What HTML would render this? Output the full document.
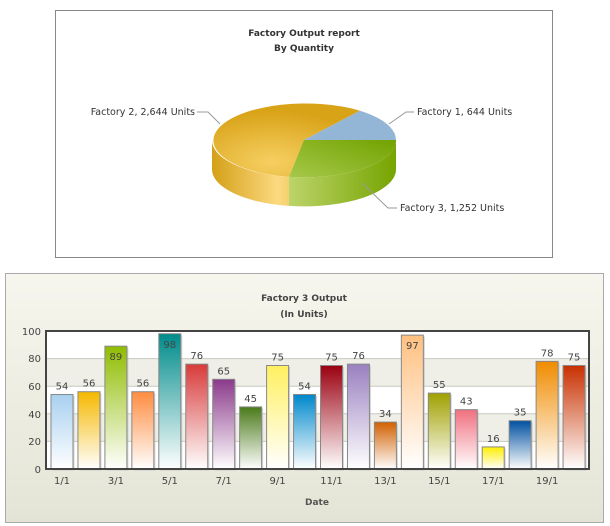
<!DOCTYPE html>
<html><head><meta charset="utf-8"><style>
body{margin:0;background:#fff;}
svg{display:block;font-family:"DejaVu Sans","Liberation Sans",sans-serif;}
</style></head><body>
<svg id="s" width="610" height="526" viewBox="0 0 610 526" xmlns="http://www.w3.org/2000/svg">
<defs>
<linearGradient id="pg" x1="0" y1="0" x2="0" y2="1"><stop offset="0" stop-color="#f6f6ee"/><stop offset="1" stop-color="#e4e4d6"/></linearGradient>
<linearGradient id="gold" x1="0" y1="0" x2="1" y2="0"><stop offset="0" stop-color="#d4a017"/><stop offset="0.85" stop-color="#fcd980"/><stop offset="1" stop-color="#f5d070"/></linearGradient>
<linearGradient id="grn" x1="0" y1="0" x2="1" y2="0"><stop offset="0" stop-color="#bcd46a"/><stop offset="1" stop-color="#76a400"/></linearGradient>
<radialGradient id="goldt" cx="0.4" cy="0.8" r="0.7"><stop offset="0" stop-color="#f6cf62"/><stop offset="1" stop-color="#d9a318"/></radialGradient>
<linearGradient id="grnt" x1="0" y1="1" x2="1" y2="0"><stop offset="0" stop-color="#a6c84a"/><stop offset="1" stop-color="#72a200"/></linearGradient>
</defs>
<rect x="55.5" y="10.5" width="497" height="247" fill="#fff" stroke="#888"/>
<text x="304" y="36" font-size="9" font-weight="bold" text-anchor="middle" fill="#333">Factory Output report</text>
<text x="304" y="51" font-size="9" font-weight="bold" text-anchor="middle" fill="#333">By Quantity</text>
<path d="M212 140 L212 169 A92 37 0 0 0 289 205.9 L289 176.9 A92 37 0 0 1 212 140 Z" fill="url(#gold)"/>
<path d="M289 176.9 L289 205.9 A92 37 0 0 0 396 169 L396 140 A92 37 0 0 1 289 176.9 Z" fill="url(#grn)"/>
<path d="M304 140 L289 176.9 A92 37 0 1 1 360 110.7 Z" fill="url(#goldt)"/>
<path d="M304 140 L360 110.7 A92 37 0 0 1 396 140 Z" fill="#93b5d6"/>
<path d="M304 140 L396 140 A92 37 0 0 1 289 176.9 Z" fill="url(#grnt)"/>
<polyline points="197,112 208,112 220,124" fill="none" stroke="#999"/>
<text x="195" y="115" font-size="9.5" text-anchor="end" fill="#333">Factory 2, 2,644 Units</text>
<polyline points="389,124 406,112 414,112" fill="none" stroke="#999"/>
<text x="417" y="115" font-size="9.5" fill="#333">Factory 1, 644 Units</text>
<polyline points="362,183 388,208 397,208" fill="none" stroke="#999"/>
<text x="400" y="211" font-size="9.5" fill="#333">Factory 3, 1,252 Units</text>
<rect x="5.5" y="273.5" width="598" height="249" fill="url(#pg)" stroke="#aaa"/>
<text x="304" y="301" font-size="9" font-weight="bold" text-anchor="middle" fill="#444">Factory 3 Output</text>
<text x="304" y="317" font-size="9" font-weight="bold" text-anchor="middle" fill="#444">(In Units)</text>
<rect x="46" y="331" width="543" height="138" fill="#fff"/>
<rect x="46" y="358.6" width="543" height="27.6" fill="#efefe8"/>
<rect x="46" y="413.8" width="543" height="27.6" fill="#efefe8"/>
<g stroke="#c8c8c0"><line x1="46" x2="589" y1="358.6" y2="358.6"/><line x1="46" x2="589" y1="386.2" y2="386.2"/><line x1="46" x2="589" y1="413.8" y2="413.8"/><line x1="46" x2="589" y1="441.4" y2="441.4"/></g>
<g id="bars"></g>
<rect x="46" y="331" width="543" height="138" fill="none" stroke="#444" stroke-width="2"/>
<g font-size="10" fill="#444" text-anchor="end">
<text x="41" y="335">100</text><text x="41" y="362">80</text><text x="41" y="390">60</text><text x="41" y="418">40</text><text x="41" y="445">20</text><text x="41" y="473">0</text>
</g>
<g id="xl" font-size="10" fill="#444" text-anchor="middle"></g>
<text x="317" y="505" font-size="9" font-weight="bold" text-anchor="middle" fill="#555">Date</text>
</svg>
<script>
var v=[54,56,89,56,98,76,65,45,75,54,75,76,34,97,55,43,16,35,78,75];
var c=["#a8d0f0","#f5b800","#8fbc00","#ff8c40","#008b8b","#d83a3a","#8b3a8b","#4a7a1a","#fff060","#0088cc","#9a0010","#9a80c0","#d06000","#ffc080","#a0a000","#f07080","#ffee00","#0050a0","#f08c00","#c83000"];
var ns="http://www.w3.org/2000/svg",s=document.getElementById("s"),d=s.querySelector("defs"),g=document.getElementById("bars"),xl=document.getElementById("xl");
function el(n,a,p){var e=document.createElementNS(ns,n);for(var k in a)e.setAttribute(k,a[k]);p.appendChild(e);return e;}
for(var i=0;i<20;i++){
 var lg=el("linearGradient",{id:"b"+i,x1:0,y1:0,x2:0,y2:1},d);
 el("stop",{offset:0,"stop-color":c[i]},lg);el("stop",{offset:1,"stop-color":"#fff"},lg);
 var x=51+26.95*i,h=v[i]*1.38,y=469-h;
 el("rect",{x:x+1.5,y:y+1.5,width:22,height:h,fill:"#bbb",opacity:0.6},g);
 el("rect",{x:x,y:y,width:22,height:h,fill:"url(#b"+i+")",stroke:"#888","stroke-width":1},g);
 var t=el("text",{x:x+11,y:(v[i]>85?y+14:y-5),"font-size":10,"text-anchor":"middle",fill:"#444"},g);t.textContent=v[i];
 if(i%2==0){var l=el("text",{x:x+11,y:484},xl);l.textContent=(i+1)+"/1";}
}
</script>
</body></html>
